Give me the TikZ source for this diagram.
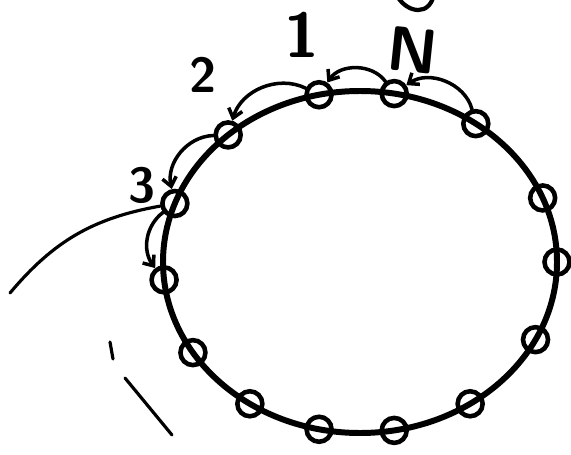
\documentclass[tikz,border=0pt]{standalone}
\usepackage{tikz}
\usetikzlibrary{arrows.meta, positioning, calc}

\begin{document}
\begin{tikzpicture}[x=0.02cm, y=0.02cm,
  site/.style={draw, circle, line width=2.6pt, minimum size=0.5cm, inner sep=0pt},
  ring/.style={line width=3.4pt},
  hop/.style={line width=2pt, line cap=round, -{Straight Barb[length=5pt, width=8pt]}},
  stroke/.style={line width=1.8pt, line cap=round},
  lbl/.style={font=\sffamily\bfseries\fontsize{28}{28}\selectfont},
  biglbl/.style={font=\sffamily\bfseries\fontsize{36}{36}\selectfont}
]
  \useasboundingbox (0,0) rectangle (571,454);

  \draw[ring] (360,192) ellipse [x radius=197, y radius=171];
  \foreach \a [count=\i] in {102,132,160,186,212,236,258,280,304,333,360,382,414,440}
    \node[site] (n\i) at ({360+197*cos(\a)},{192+171*sin(\a)}) {};

  \node[biglbl] (l1) at (302,419) {1};
  \node[lbl]    (l2) at (203,379) {2};
  \node[lbl]    (l3) at (142,269) {3};
  \node[biglbl, rotate=-6] (lN) at (413,404) {N};

  \draw[hop] (n13) to[bend right=55] (n14);
  \draw[hop] (n14) to[bend right=55] (n1);
  \draw[hop] (n1) to[bend right=50] (n2);
  \draw[hop] (n2) to[bend right=50] (n3);
  \draw[hop] (n3) to[bend right=45] (n4);

  \coordinate (tail) at (10,161);
  \draw[stroke] (tail) to[out=50, in=190] (n3);
  \draw[stroke] (110,112) -- (113,95);
  \draw[stroke] (125,76) -- (172,19);
  \draw[stroke, line width=2.4pt] (397,458) .. controls (408,440) and (430,438) .. (434,460);
\end{tikzpicture}
\end{document}
